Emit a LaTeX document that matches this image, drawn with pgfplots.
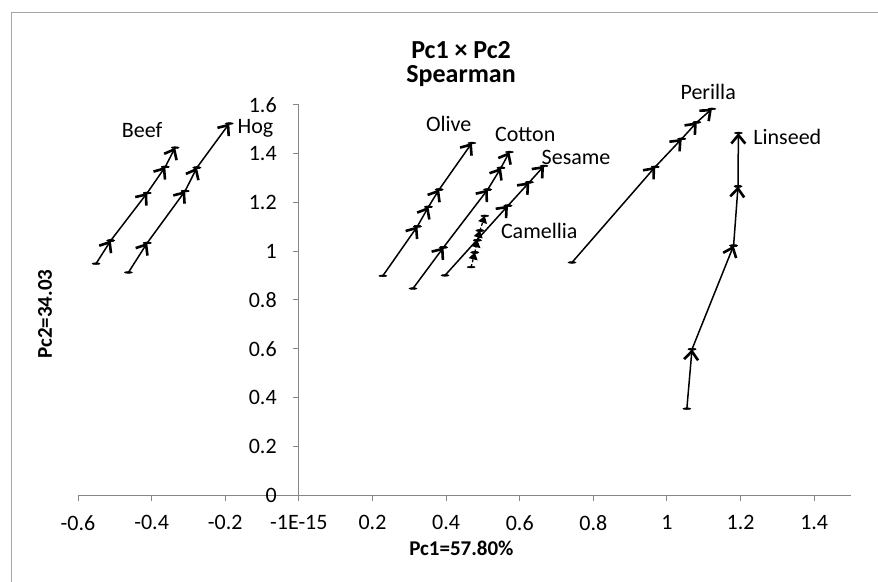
\documentclass[border=0pt]{standalone}
\usepackage{fontspec}
\setmainfont{Carlito}
\usepackage{pgfplots}
\usepackage{pgfplotstable}
\pgfplotsset{compat=1.18}
\usetikzlibrary{arrows.meta}
\definecolor{axgray}{HTML}{868686}
\definecolor{framegray}{HTML}{A6A6A6}

% each row: segment from (x,y) to (x2,y2)
\pgfplotstableread{
x y x2 y2
-0.551 0.949 -0.511 1.044
-0.511 1.044 -0.412 1.239
-0.412 1.239 -0.363 1.346
-0.363 1.346 -0.336 1.425
}\beef
\pgfplotstableread{
x y x2 y2
-0.463 0.913 -0.412 1.034
-0.412 1.034 -0.309 1.247
-0.309 1.247 -0.277 1.343
-0.277 1.343 -0.189 1.524
}\hog
\pgfplotstableread{
x y x2 y2
0.228 0.899 0.322 1.102
0.322 1.102 0.352 1.182
0.352 1.182 0.381 1.253
0.381 1.253 0.470 1.444
}\olive
\pgfplotstableread{
x y x2 y2
0.310 0.847 0.393 1.016
0.393 1.016 0.513 1.253
0.513 1.253 0.549 1.342
0.549 1.342 0.572 1.407
}\cotton
\pgfplotstableread{
x y x2 y2
0.397 0.901 0.568 1.187
0.568 1.187 0.626 1.283
0.626 1.283 0.666 1.350
}\sesame
\pgfplotstableread{
x y x2 y2
0.468 0.935 0.478 0.995
0.478 0.995 0.485 1.045
0.485 1.045 0.492 1.085
0.492 1.085 0.505 1.145
}\camellia
\pgfplotstableread{
x y x2 y2
0.742 0.954 0.968 1.346
0.968 1.346 1.040 1.461
1.040 1.461 1.081 1.529
1.081 1.529 1.122 1.584
}\perilla
\pgfplotstableread{
x y x2 y2
1.054 0.354 1.068 0.598
1.068 0.598 1.181 1.023
1.181 1.023 1.193 1.266
1.193 1.266 1.194 1.485
}\linseed

\pgfplotsset{
  seg/.style={quiver={u=\thisrow{x2}-\thisrow{x}, v=\thisrow{y2}-\thisrow{y}},
    black, line width=1.5pt,
    -{Straight Barb[length=8.5pt,width=14pt,line width=2.6pt]}},
  dseg/.style={quiver={u=\thisrow{x2}-\thisrow{x}, v=\thisrow{y2}-\thisrow{y}},
    black, line width=1.3pt, dash pattern=on 3pt off 2pt,
    -{Triangle[length=7pt,width=9pt]}},
  mk/.style={only marks, mark=*, mark size=1.6pt,
    mark options={black, solid, xscale=2.5, yscale=0.6}},
}

\begin{document}
\begin{tikzpicture}[font=\fontsize{22}{26}\selectfont]
\begin{axis}[
  scale only axis, width=773pt, height=390pt,
  xmin=-0.6, xmax=1.5, ymin=0, ymax=1.6,
  clip=false,
  axis x line=bottom, axis y line=center,
  axis line style={axgray, line width=1pt, -},
  hide obscured x ticks=false, hide obscured y ticks=false,
  xtick={-0.6,-0.4,-0.2,0,0.2,0.4,0.6,0.8,1,1.2,1.4},
  xticklabels={-0.6,-0.4,-0.2,-1E-15,0.2,0.4,0.6,0.8,1,1.2,1.4},
  ytick={0,0.2,0.4,0.6,0.8,1,1.2,1.4,1.6},
  yticklabels={0,0.2,0.4,0.6,0.8,1,1.2,1.4,1.6},
  tick style={axgray, line width=1pt},
  major tick length=6pt, tick align=outside,
  x tick label style={anchor=north, inner sep=0pt, yshift=-14pt},
  y tick label style={anchor=east, inner sep=0pt, xshift=-16pt},
  xlabel={\textbf{Pc1=57.80\%}},
  ylabel={\textbf{Pc2=34.03}},
  every axis x label/.style={at={(rel axis cs:0.496,-0.138)}, anchor=center,
    font=\fontsize{21}{24}\selectfont},
  every axis y label/.style={at={(rel axis cs:-0.0427,0.464)}, anchor=center,
    rotate=90, font=\fontsize{21}{24}\selectfont},
  title={Pc1 × Pc2\\Spearman},
  title style={at={(rel axis cs:0.4955,1.09)}, anchor=center, align=center,
    font=\fontsize{26}{24}\selectfont\bfseries},
]
\coordinate (bl) at (rel axis cs:-0.1009,-0.2205);
\coordinate (tr) at (rel axis cs:1.0349,1.2692);
\draw[framegray, line width=1pt] (rel axis cs:-0.0854,-0.4) -- (rel axis cs:-0.0854,1.2359) -- (rel axis cs:1.2,1.2359);

\addplot[seg] table[x=x,y=y] {\beef};
\addplot[mk] table[x=x,y=y] {\beef};
\addplot[mk] table[x=x2,y=y2] {\beef};

\addplot[seg] table[x=x,y=y] {\hog};
\addplot[mk] table[x=x,y=y] {\hog};
\addplot[mk] table[x=x2,y=y2] {\hog};

\addplot[seg] table[x=x,y=y] {\olive};
\addplot[mk] table[x=x,y=y] {\olive};
\addplot[mk] table[x=x2,y=y2] {\olive};

\addplot[seg] table[x=x,y=y] {\cotton};
\addplot[mk] table[x=x,y=y] {\cotton};
\addplot[mk] table[x=x2,y=y2] {\cotton};

\addplot[seg] table[x=x,y=y] {\sesame};
\addplot[mk] table[x=x,y=y] {\sesame};
\addplot[mk] table[x=x2,y=y2] {\sesame};

\addplot[dseg] table[x=x,y=y] {\camellia};
\addplot[mk] table[x=x,y=y] {\camellia};
\addplot[mk] table[x=x2,y=y2] {\camellia};

\addplot[seg] table[x=x,y=y] {\perilla};
\addplot[mk] table[x=x,y=y] {\perilla};
\addplot[mk] table[x=x2,y=y2] {\perilla};

\addplot[seg] table[x=x,y=y] {\linseed};
\addplot[mk] table[x=x,y=y] {\linseed};
\addplot[mk] table[x=x2,y=y2] {\linseed};

\node[anchor=base] at (axis cs:-0.426,1.465) {Beef};
\node[anchor=base] at (axis cs:-0.118,1.485) {Hog};
\node[anchor=base] at (axis cs:0.407,1.492) {Olive};
\node[anchor=base] at (axis cs:0.615,1.451) {Cotton};
\node[anchor=base] at (axis cs:0.753,1.355) {Sesame};
\node[anchor=base] at (axis cs:0.653,1.054) {Camellia};
\node[anchor=base] at (axis cs:1.112,1.622) {Perilla};
\node[anchor=base] at (axis cs:1.327,1.437) {Linseed};
\end{axis}
\pgfresetboundingbox
\useasboundingbox (bl) rectangle (tr);
\end{tikzpicture}
\end{document}
